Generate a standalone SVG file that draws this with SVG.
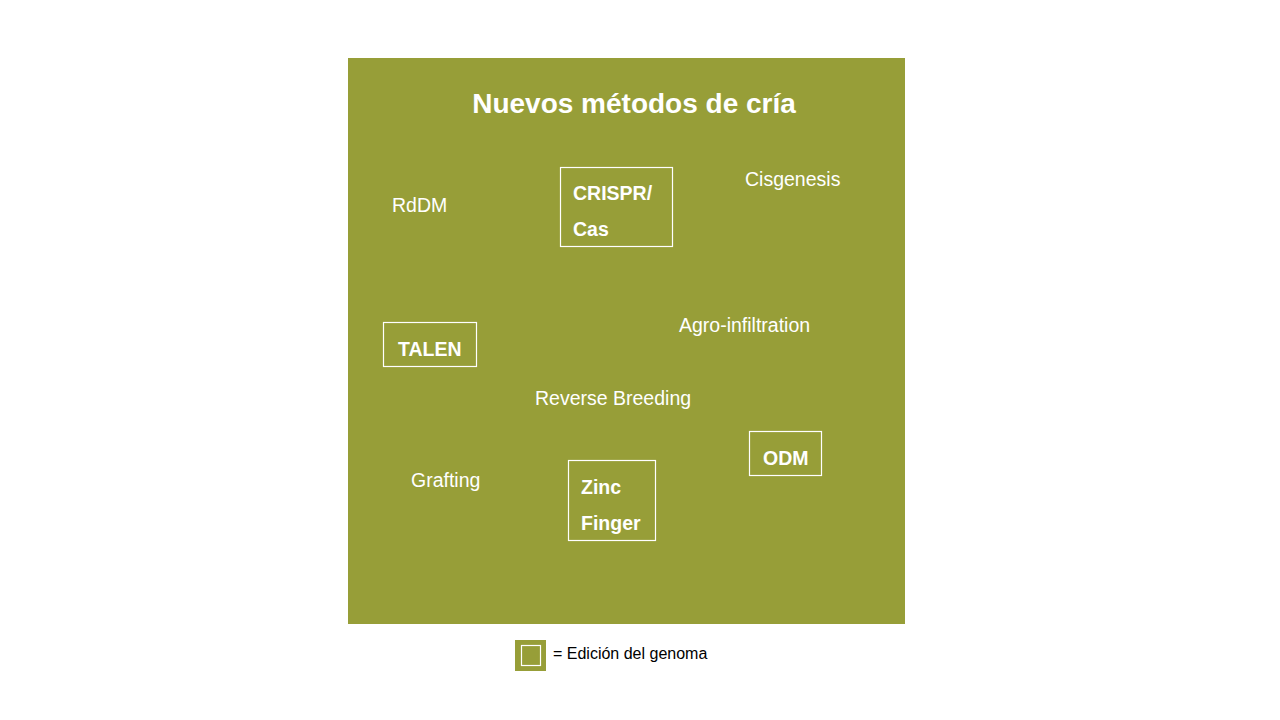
<svg xmlns="http://www.w3.org/2000/svg" width="1280" height="720" viewBox="0 0 1280 720">
<style>
.t{font-family:"Liberation Sans",Arial,sans-serif;fill:#ffffff;font-size:19.5px}
.b{font-weight:bold}
.box{fill:none;stroke:#ffffff;stroke-width:1.2}
</style>
<rect width="1280" height="720" fill="#ffffff"/>
<rect id="panel" x="348" y="58" width="557" height="566" fill="#979e38"/>
<text id="title" class="t b" x="634" y="113" text-anchor="middle" font-size="28" style="font-size:28px">Nuevos métodos de cría</text>
<g id="rddm"><text class="t" x="392" y="212">RdDM</text></g>
<g id="crispr"><rect class="box" x="560.5" y="167.5" width="112" height="79"/><text class="t b" x="573" y="200">CRISPR/</text><text class="t b" x="573" y="236">Cas</text></g>
<g id="cisgenesis"><text class="t" x="745" y="186">Cisgenesis</text></g>
<g id="talen"><rect class="box" x="383.5" y="322.5" width="93" height="44"/><text class="t b" x="398" y="356">TALEN</text></g>
<g id="agro"><text class="t" x="679" y="332">Agro-infiltration</text></g>
<g id="reverse"><text class="t" x="535" y="405">Reverse Breeding</text></g>
<g id="odm"><rect class="box" x="749.5" y="431.5" width="72" height="44"/><text class="t b" x="763" y="465">ODM</text></g>
<g id="grafting"><text class="t" x="411" y="487">Grafting</text></g>
<g id="zinc"><rect class="box" x="568.5" y="460.5" width="87" height="80"/><text class="t b" x="581" y="494">Zinc</text><text class="t b" x="581" y="530">Finger</text></g>
<g id="connectors"></g>
<g id="legend"><rect x="515" y="640" width="31" height="31" fill="#979e38"/><rect class="box" x="521.5" y="645.5" width="19" height="20"/><text x="553" y="659" font-family="Liberation Sans,Arial,sans-serif" font-size="16" fill="#000000">= Edición del genoma</text></g>
</svg>
